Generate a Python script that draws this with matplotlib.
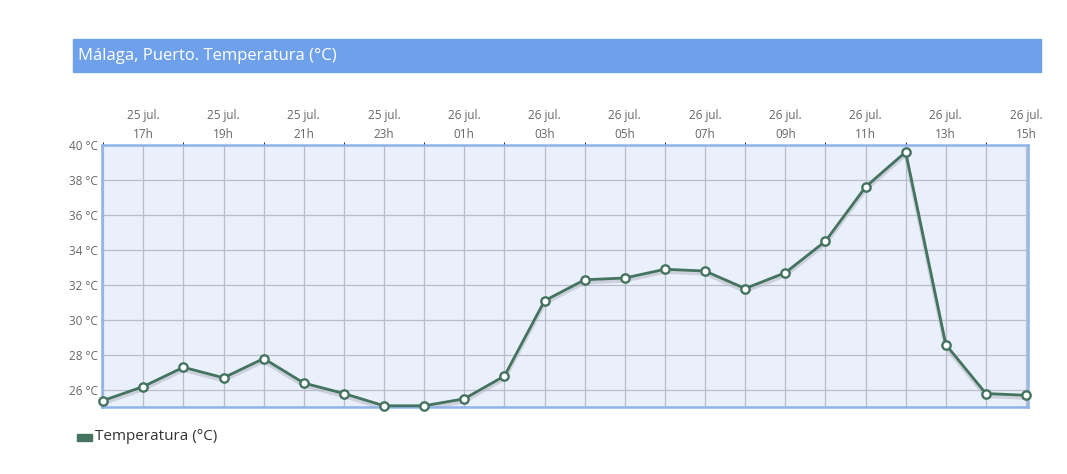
import matplotlib
matplotlib.use("Agg")
import matplotlib.pyplot as plt
import matplotlib.transforms as mtransforms
from matplotlib.patches import Rectangle

plt.rcParams['font.family'] = ['Open Sans', 'DejaVu Sans']

# hourly readings, 25 jul. 16h -> 26 jul. 15h
hours = ["16h", "17h", "18h", "19h", "20h", "21h", "22h", "23h",
         "00h", "01h", "02h", "03h", "04h", "05h", "06h", "07h",
         "08h", "09h", "10h", "11h", "12h", "13h", "14h", "15h"]
days = ["25 jul."] * 8 + ["26 jul."] * 16
temps = [25.4, 26.2, 27.3, 26.7, 27.8, 26.4, 25.8, 25.1,
         25.1, 25.5, 26.8, 31.1, 32.3, 32.4, 32.9, 32.8,
         31.8, 32.7, 34.5, 37.6, 39.6, 28.6, 25.8, 25.7]
yticks = [26, 28, 30, 32, 34, 36, 38, 40]

fig = plt.figure(figsize=(10.67, 4.74), dpi=100)

# title bar
fig.patches.append(Rectangle((73/1067, 1-72/474), (1041-73)/1067, 33/474,
                             transform=fig.transFigure, color='#6fa1eb', zorder=0))
fig.text(78/1067, 1-56/474, "Málaga, Puerto. Temperatura (°C)", color='white',
         fontsize=12, va='center', ha='left')

ax = fig.add_axes([102/1067, 1-407/474, 926/1067, 262/474])
ax.set_facecolor('#e9f0fb')
x = list(range(len(temps)))

# soft shadow under the line
shadow = mtransforms.offset_copy(ax.transData, fig=fig, x=0, y=-2.5, units='dots')
ax.plot(x, temps, color='#b8bcc8', lw=3, alpha=0.6, transform=shadow, zorder=2)
ax.plot(x, temps, color='#44735f', lw=2, zorder=3, marker='o', ms=6,
        mfc='white', mec='#44735f', mew=1.7, clip_on=False)

ax.set_xlim(-0.03, 23.05)
ax.set_ylim(25.03, 40)
ax.set_xticks(x, minor=True)
ax.set_xticks(x[1::2])
ax.set_xticklabels([f"{d}\n{h}" for d, h in zip(days[1::2], hours[1::2])],
                   linespacing=1.6)
ax.xaxis.tick_top()
ax.set_yticks(yticks)
ax.set_yticklabels([f"{v} °C" for v in yticks])
ax.tick_params(axis='both', length=0, colors='#666666', labelsize=8.5)
ax.tick_params(axis='x', pad=3)
ax.tick_params(axis='y', pad=3)
ax.grid(True, which='both', color='#b9bdc9', lw=0.9)
ax.set_axisbelow(True)
for s in ax.spines.values():
    s.set_color('#8fb3e9')
    s.set_linewidth(1.8)

# legend
fig.patches.append(Rectangle((77/1067, 1-441/474), 15/1067, 7/474,
                             transform=fig.transFigure, color='#44735f'))
fig.text(95/1067, 1-437/474, "Temperatura (°C)", color='#333333',
         fontsize=11, va='center', ha='left')

fig.savefig("out.png", dpi=100, facecolor='white')
